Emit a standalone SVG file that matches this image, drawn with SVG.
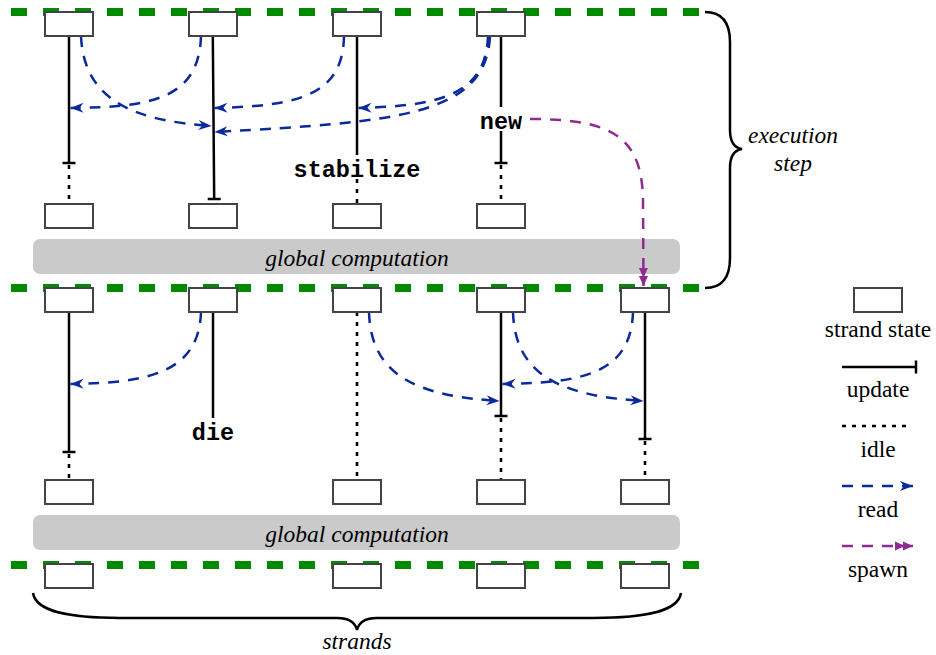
<svg xmlns="http://www.w3.org/2000/svg" width="936" height="655" viewBox="0 0 936 655">
<style>
.sep{fill:none;stroke:#008a00;stroke-width:8;stroke-dasharray:16 16}
.gc{fill:#cacaca;stroke:none}
.st{fill:#fff;stroke:#444;stroke-width:2}
.upd{fill:none;stroke:#000;stroke-width:2.5}
.idle{fill:none;stroke:#000;stroke-width:2.6;stroke-dasharray:4 6}
.read{fill:none;stroke:#0a2a9c;stroke-width:2.5;stroke-dasharray:11 9;marker-end:url(#ah)}
.spawn{fill:none;stroke:#8e2a91;stroke-width:2.5;stroke-dasharray:11 9;marker-end:url(#ah2)}
.brace{fill:none;stroke:#000;stroke-width:2.5}
.lbl{font-family:"Liberation Serif",serif;font-size:23.5px;fill:#000;text-anchor:middle}
.it{font-style:italic}
.code{font-family:"Liberation Mono",monospace;font-weight:bold;font-size:23.5px;fill:#000;text-anchor:middle}
</style>
<defs>
<marker id="ah" viewBox="-14 -7 15 14" refX="0" refY="0" markerWidth="15" markerHeight="14" orient="auto" markerUnits="userSpaceOnUse">
<path d="M0,0 L-13,-5 L-9,0 L-13,5 Z" fill="#0a2a9c"/>
</marker>
<marker id="ah2" viewBox="-20 -7 21 14" refX="0" refY="0" markerWidth="21" markerHeight="14" orient="auto" markerUnits="userSpaceOnUse">
<path d="M0,0 L-10,-4.5 L-10,4.5 Z M-8,0 L-18,-4.5 L-18,4.5 Z" fill="#8e2a91"/>
</marker>
</defs>

<g id="separators">
<path class="sep" d="M11,12 H699"/>
<path class="sep" d="M11,288 H699"/>
<path class="sep" d="M11,565 H699"/>
</g>

<g id="global1"><rect class="gc" x="33" y="239" width="647" height="35" rx="7"/><text class="lbl it" x="357" y="266">global computation</text></g>
<g id="global2"><rect class="gc" x="33" y="515" width="647" height="35" rx="7"/><text class="lbl it" x="357" y="542">global computation</text></g>

<g id="strand-lines">
<path class="upd" d="M69,36 V163 M62.5,163 H75.5"/>
<path class="idle" d="M69,165 V204"/>
<path class="upd" d="M212.8,36 L214.2,199 M207.7,199 H220.7"/>
<path class="upd" d="M357,36 V155"/>
<path class="idle" d="M357,179 V204"/>
<path class="upd" d="M501,36 V107 M501,131 V163 M494.5,163 H507.5"/>
<path class="idle" d="M501,165 V204"/>
<path class="upd" d="M69,312 V452 M62.5,452 H75.5"/>
<path class="idle" d="M69,454 V480"/>
<path class="upd" d="M213,312 V418"/>
<path class="idle" d="M357,312 V480"/>
<path class="upd" d="M501,312 V416 M494.5,416 H507.5"/>
<path class="idle" d="M501,418 V480"/>
<path class="upd" d="M645,312 V439 M638.5,439 H651.5"/>
<path class="idle" d="M645,441 V480"/>
</g>

<g id="labels">
<text class="code" x="357" y="177">stabilize</text>
<text class="code" x="501" y="129">new</text>
<text class="code" x="213" y="440">die</text>
</g>

<g id="connectors">
<path class="read" d="M81,36 C84,104 140,121 211.5,126"/>
<path class="read" d="M201,36 C199,100 150,107 70.5,108"/>
<path class="read" d="M344,36 C343,95 300,106 214.5,108"/>
<path class="read" d="M488,36 C486,95 440,106 358.5,108"/>
<path class="read" d="M490,37 C485,115 400,122 214.5,132"/>
<path class="spawn" d="M530,119 C610,119 642,135 643,200 L643.5,286"/>
<path class="read" d="M201,312 C199,372 150,383 70.5,384"/>
<path class="read" d="M369,312 C371,378 420,396 499.5,401"/>
<path class="read" d="M513,312 C515,378 565,396 643.5,401"/>
<path class="read" d="M633,312 C631,374 582,383 502.5,384"/>
</g>

<g id="s1-1"><rect class="st" x="45" y="12" width="48" height="24"/></g>
<g id="s1-2"><rect class="st" x="189" y="12" width="48" height="24"/></g>
<g id="s1-3"><rect class="st" x="333" y="12" width="48" height="24"/></g>
<g id="s1-4"><rect class="st" x="477" y="12" width="48" height="24"/></g>
<g id="s1b-1"><rect class="st" x="45" y="204" width="48" height="24"/></g>
<g id="s1b-2"><rect class="st" x="189" y="204" width="48" height="24"/></g>
<g id="s1b-3"><rect class="st" x="333" y="204" width="48" height="24"/></g>
<g id="s1b-4"><rect class="st" x="477" y="204" width="48" height="24"/></g>

<g id="s2-1"><rect class="st" x="45" y="288" width="48" height="24"/></g>
<g id="s2-2"><rect class="st" x="189" y="288" width="48" height="24"/></g>
<g id="s2-3"><rect class="st" x="333" y="288" width="48" height="24"/></g>
<g id="s2-4"><rect class="st" x="477" y="288" width="48" height="24"/></g>
<g id="s2-5"><rect class="st" x="621" y="288" width="48" height="24"/></g>
<g id="s2b-1"><rect class="st" x="45" y="480" width="48" height="24"/></g>
<g id="s2b-3"><rect class="st" x="333" y="480" width="48" height="24"/></g>
<g id="s2b-4"><rect class="st" x="477" y="480" width="48" height="24"/></g>
<g id="s2b-5"><rect class="st" x="621" y="480" width="48" height="24"/></g>

<g id="s3-1"><rect class="st" x="45" y="564" width="48" height="24"/></g>
<g id="s3-3"><rect class="st" x="333" y="564" width="48" height="24"/></g>
<g id="s3-4"><rect class="st" x="477" y="564" width="48" height="24"/></g>
<g id="s3-5"><rect class="st" x="621" y="564" width="48" height="24"/></g>

<g id="brace-step">
<path class="brace" d="M705,12 C722,12 730,22 730,42 L730,130 C730,142 735,148 742,149 C735,150 730,156 730,168 L730,258 C730,278 722,288 705,288"/>
<text class="lbl it" x="793" y="143">execution</text>
<text class="lbl it" x="793" y="171">step</text>
</g>

<g id="brace-strands">
<path class="brace" d="M33,593 C36,612 70,618 120,618 L337,618 C349,618 355,622 357,630 C359,622 365,618 377,618 L594,618 C644,618 678,612 681,593"/>
<text class="lbl it" x="357" y="649">strands</text>
</g>

<g id="legend">
<g id="leg-state"><rect class="st" x="854" y="288" width="48" height="24"/><text class="lbl" x="878" y="337">strand state</text></g>
<g id="leg-update"><path class="upd" d="M842,367 H916 M916,360.5 V373.5"/><text class="lbl" x="878" y="397">update</text></g>
<g id="leg-idle"><path class="idle" d="M842,426 H910"/><text class="lbl" x="878" y="457">idle</text></g>
<g id="leg-read"><path class="read" d="M842,486 H913"/><text class="lbl" x="878" y="517">read</text></g>
<g id="leg-spawn"><path class="spawn" d="M842,546 H913"/><text class="lbl" x="878" y="577">spawn</text></g>
</g>
</svg>
